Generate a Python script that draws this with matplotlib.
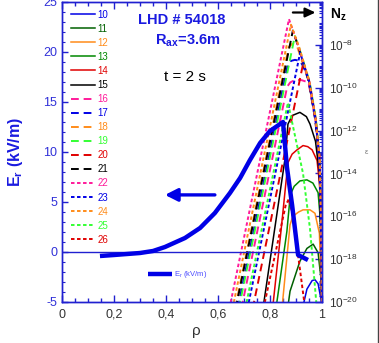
import numpy as np
import matplotlib
matplotlib.use('Agg')
from matplotlib import pyplot as plt
from matplotlib.ticker import FixedLocator, MultipleLocator, LogLocator, NullFormatter

plt.rcParams['font.family'] = ['Liberation Sans', 'DejaVu Sans']
plt.rcParams['mathtext.fontset'] = 'custom'
plt.rcParams['mathtext.rm'] = 'Liberation Sans'
plt.rcParams['mathtext.it'] = 'Liberation Sans:italic'
plt.rcParams['mathtext.bf'] = 'Liberation Sans:bold'
plt.rcParams['mathtext.default'] = 'regular'
plt.rcParams['axes.unicode_minus'] = False

# radial electric field profile (left axis, kV/m)
rho_er = [0.146, 0.20, 0.25, 0.30, 0.35, 0.396, 0.473, 0.531, 0.588, 0.646,
          0.685, 0.723, 0.762, 0.80, 0.85, 0.865, 0.885, 0.908, 0.946]
er = [-0.4, -0.3, -0.2, -0.1, 0.1, 0.5, 1.4, 2.4, 3.9, 5.9,
      7.4, 9.2, 10.9, 12.1, 13.0, 8.5, 4.7, -0.3, -0.8]

# charge state densities N_z (right axis), given as log10 N_z
rho10 = [0.925, 0.942, 0.962, 0.973, 0.985, 0.995, 1.0]
lg10 = [-20.3, -19.4, -19.0, -18.96, -19.15, -19.8, -20.3]
rho11 = [0.868, 0.877, 0.915, 0.942, 0.966, 0.985, 0.997, 1.0]
lg11 = [-20.3, -19.5, -18.1, -17.5, -17.3, -17.7, -19.0, -20.3]
rho12 = [0.846, 0.877, 0.888, 0.91, 0.927, 0.954, 0.973, 0.99, 1.0]
lg12 = [-20.3, -16.4, -16.0, -15.8, -15.7, -15.7, -15.86, -16.8, -20.3]
rho13 = [0.823, 0.865, 0.878, 0.893, 0.915, 0.942, 0.965, 0.985, 0.996, 1.0]
lg13 = [-20.3, -16.7, -15.0, -14.6, -14.35, -14.3, -14.45, -14.9, -16.5, -20.3]
rho14 = [0.81, 0.843, 0.869, 0.885, 0.904, 0.927, 0.945, 0.962, 0.981, 0.995, 1.0]
lg14 = [-20.3, -16.6, -13.5, -13.1, -12.9, -12.7, -12.75, -12.9, -13.4, -15.0, -20.3]
rho15 = [0.773, 0.858, 0.869, 0.885, 0.915, 0.94, 0.954, 0.975, 0.99, 1.0]
lg15 = [-20.3, -13.3, -11.7, -11.3, -11.15, -11.35, -11.7, -12.5, -14.0, -20.3]
rho16 = [0.69, 0.866, 0.878, 0.90, 0.922, 0.948, 0.975, 0.99, 0.996, 1.0]
lg16 = [-20.3, -9.95, -9.75, -9.62, -9.65, -9.75, -11.5, -13.3, -16.0, -20.3]
rho17 = [0.676, 0.868, 0.88, 0.896, 0.915, 0.928, 0.952, 0.976, 0.99, 0.996, 1.0]
lg17 = [-20.3, -8.95, -8.75, -8.7, -8.75, -9.0, -9.75, -11.5, -13.3, -16.0, -20.3]
rho18 = [0.666, 0.872, 0.886, 0.905, 0.951, 0.976, 0.99, 0.997, 1.0]
lg18 = [-20.3, -8.1, -7.95, -8.1, -9.75, -11.5, -13.3, -16.0, -20.3]
rho19 = [0.68, 0.8955, 0.911, 0.952, 0.977, 0.991, 0.997, 1.0]
lg19 = [-20.3, -7.59, -8.1, -9.7, -11.5, -13.3, -16.0, -20.3]
rho20 = [0.7335, 0.928, 0.951, 0.976, 0.991, 0.997, 1.0]
lg20 = [-20.3, -8.84, -9.7, -11.5, -13.3, -16.0, -20.3]
rho21 = [0.668, 0.888, 0.909, 0.949, 0.974, 0.989, 0.996, 1.0]
lg21 = [-20.3, -7.33, -8.1, -9.7, -11.5, -13.3, -16.0, -20.3]
rho22 = [0.644, 0.873, 0.91, 0.95, 0.975, 0.99, 0.996, 1.0]
lg22 = [-20.3, -6.8, -8.1, -9.7, -11.5, -13.3, -16.0, -20.3]
rho23 = [0.7135, 0.916, 0.95, 0.975, 0.99, 0.996, 1.0]
lg23 = [-20.3, -8.36, -9.7, -11.5, -13.3, -16.0, -20.3]
rho24 = [0.656, 0.8805, 0.912, 0.951, 0.976, 0.991, 0.997, 1.0]
lg24 = [-20.3, -7.06, -8.1, -9.7, -11.5, -13.3, -16.0, -20.3]
rho25 = [0.705, 0.869, 0.927, 0.954, 0.98]
lg25 = [-20.3, -10.7, -14.0, -16.6, -20.3]
rho26 = [0.775, 0.86, 0.872, 0.885, 0.91, 0.935]
lg26 = [-20.3, -15.5, -15.2, -15.8, -18.0, -20.3]

xtick_pos = [0, 0.2, 0.4, 0.6, 0.8, 1.0]
xtick_labels = ['0', '0,2', '0,4', '0,6', '0,8', '1']
ntick_pos = [1e-20, 1e-18, 1e-16, 1e-14, 1e-12, 1e-10, 1e-8]

blue = '#0000e6'
dgreen = '#006000'
green = '#008800'
orange = '#ff8c1a'
red = '#e00000'
pink = '#ff1a9a'
lime = '#33ff33'
axcol = '#2020d0'

solid = '-'
dash = (0, (4, 2.5))
dot = (0, (1.8, 1.3))

curves = [
    (10, rho10, lg10, blue, solid),
    (11, rho11, lg11, dgreen, solid),
    (12, rho12, lg12, orange, solid),
    (13, rho13, lg13, green, solid),
    (14, rho14, lg14, red, solid),
    (15, rho15, lg15, 'black', solid),
    (16, rho16, lg16, pink, dash),
    (17, rho17, lg17, blue, dash),
    (18, rho18, lg18, orange, dash),
    (19, rho19, lg19, lime, dash),
    (20, rho20, lg20, red, dash),
    (21, rho21, lg21, 'black', dash),
    (22, rho22, lg22, pink, dot),
    (23, rho23, lg23, blue, dot),
    (24, rho24, lg24, orange, dot),
    (25, rho25, lg25, lime, dot),
    (26, rho26, lg26, red, dot),
]

fig = plt.figure(figsize=(3.79, 3.43), dpi=100)
ax_n = fig.add_axes([62 / 379, 41 / 343, 260 / 379, 300 / 343])
ax_e = ax_n.twinx()

# densities
for z, r, lg, col, ls in curves:
    lw = 1.1 if ls == solid else 1.4
    ax_n.plot(r, 10.0 ** np.array(lg), color=col, ls=ls, lw=lw, label=str(z))

ax_n.set_yscale('log')
ax_n.set_ylim(1e-20, 1e-6)
ax_n.set_xlim(0, 1)
ax_n.yaxis.tick_right()
ax_n.yaxis.set_label_position('right')
ax_n.yaxis.set_major_locator(FixedLocator(ntick_pos))
ax_n.yaxis.set_minor_locator(LogLocator(base=10, subs=np.arange(1, 10), numticks=40))
ax_n.yaxis.set_minor_formatter(NullFormatter())
ax_n.set_xticks(xtick_pos)
ax_n.set_xticklabels(xtick_labels)
ax_n.xaxis.set_minor_locator(MultipleLocator(0.05))
ax_n.tick_params(axis='x', which='both', direction='in', top=True, bottom=True,
                 color=axcol, labelcolor='#333333', labelsize=9, pad=5)
ax_n.tick_params(axis='x', which='major', length=5, width=1)
ax_n.tick_params(axis='x', which='minor', length=3, width=1)
ax_n.tick_params(axis='y', which='both', direction='in', left=False, right=True,
                 color=axcol, labelcolor='#333333', labelsize=8.5, pad=5)
ax_n.tick_params(axis='y', which='major', length=5, width=1)
ax_n.tick_params(axis='y', which='minor', length=2.5, width=0.8)
ax_n.set_xlabel('ρ', fontsize=11, color='#333333')
ax_n.xaxis.set_label_coords(0.515, -0.075)

leg = ax_n.legend(loc='upper left', bbox_to_anchor=(0.0346, 0.975), frameon=False,
                  fontsize=7, labelspacing=0.42, handlelength=2.47, handletextpad=0.25,
                  borderpad=0, borderaxespad=0, labelcolor='linecolor')

# electric field
ax_e.yaxis.tick_left()
ax_e.yaxis.set_label_position('left')
ax_e.axhline(0, color=axcol, lw=1.0)
ax_e.plot(rho_er, er, color=blue, lw=3.2, solid_capstyle='butt', label='E$_r$ (kV/m)')
ax_e.set_ylim(-5, 25)
ax_e.yaxis.set_major_locator(MultipleLocator(5))
ax_e.yaxis.set_minor_locator(MultipleLocator(1))
ax_e.tick_params(axis='y', which='both', direction='in', left=True, right=False,
                 color=axcol, labelcolor='#3030d8', labelsize=9)
ax_e.tick_params(axis='y', which='major', length=4, width=1)
ax_e.tick_params(axis='y', which='minor', length=2, width=0.8)
ax_e.tick_params(axis='x', which='both', bottom=False, top=False,
                 labelbottom=False, labeltop=False)
ax_e.set_ylabel('E$_r$ (kV/m)', fontsize=11.5, fontweight='bold', color='#1a1ae0')
ax_e.yaxis.set_label_coords(-0.142, 0.5)
ax_e.legend(loc='center left', bbox_to_anchor=(0.331, 0.09), frameon=False,
            fontsize=5.5, handlelength=3.1, handletextpad=0.3, borderpad=0,
            borderaxespad=0, labelcolor='#4a4aff')

for a in (ax_n, ax_e):
    for s in a.spines.values():
        s.set_color(axcol)
        s.set_linewidth(1.0)

ax_e.text(0.46, 0.94, 'LHD # 54018', transform=ax_e.transAxes, ha='center',
          va='center', fontsize=10.5, fontweight='bold', color='#1a1ae0')
ax_e.text(0.485, 0.87, r'$\mathbf{R_{ax}}$=3.6m', transform=ax_e.transAxes,
          ha='center', va='center', fontsize=10.5, fontweight='bold', color='#1a1ae0')
ax_e.text(0.473, 0.75, 't = 2 s', transform=ax_e.transAxes, ha='center',
          va='center', fontsize=11, color='black')

ax_e.annotate('', xy=(0.396, 0.357), xytext=(0.588, 0.357), xycoords='axes fraction',
              arrowprops=dict(arrowstyle='-|>,head_length=0.75,head_width=0.38',
                              color=blue, lw=2.4, shrinkA=0, shrinkB=0))
ax_e.annotate('', xy=(0.975, 0.965), xytext=(0.888, 0.965), xycoords='axes fraction',
              arrowprops=dict(arrowstyle='-|>,head_length=0.6,head_width=0.28',
                              color='black', lw=1.6, shrinkA=0, shrinkB=0))
ax_e.text(1.031, 0.957, r'$\mathbf{N_z}$', transform=ax_e.transAxes, ha='left',
          va='center', fontsize=10, color='black')

fig.text(366 / 379, 1 - 153 / 343, 'ε', fontsize=5.5, color='#777777',
         ha='center', va='center')
fig.add_artist(plt.Line2D([377.5 / 379, 377.5 / 379], [0, 1], color='#444444', lw=1.0))

fig.savefig('out.png', dpi=100)
